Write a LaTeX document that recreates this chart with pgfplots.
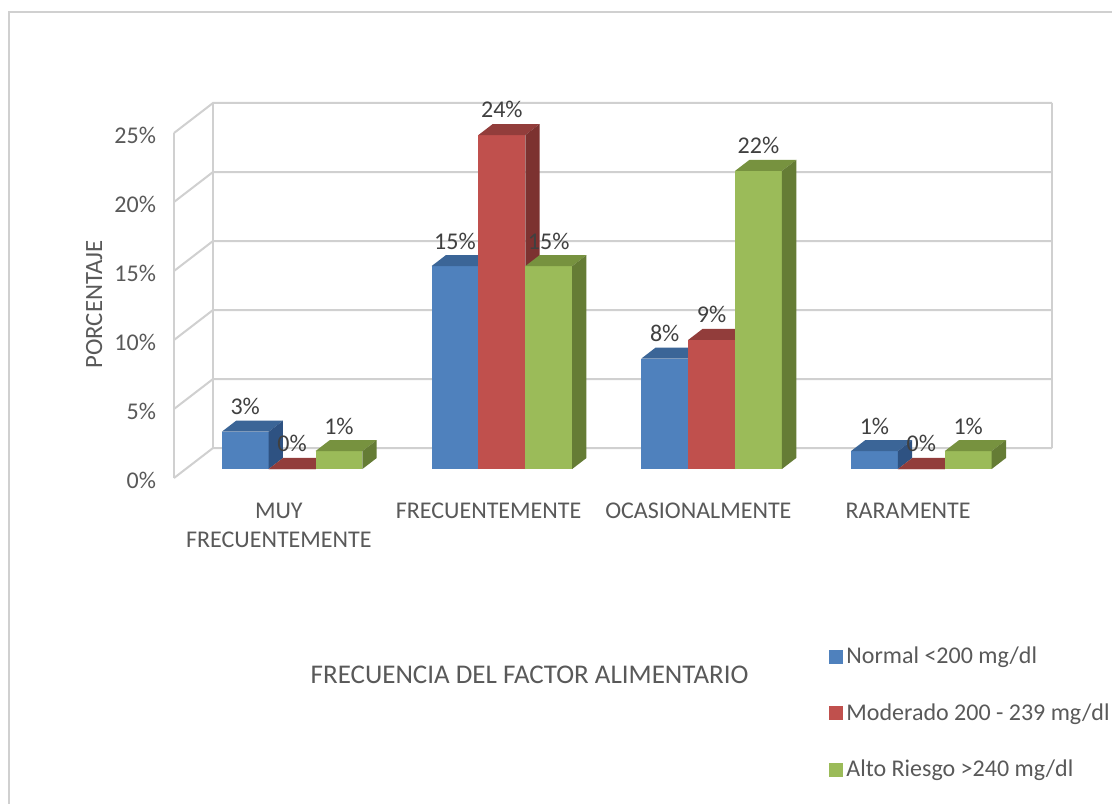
\documentclass[border=0pt]{standalone}
\usepackage{pgfplots}
\pgfplotsset{compat=1.18}
\usepackage{fontspec}
\setmainfont{Carlito}
\definecolor{cblue}{HTML}{4F81BD}
\definecolor{cbluetop}{HTML}{3B6597}
\definecolor{cblueside}{HTML}{2E5282}
\definecolor{cred}{HTML}{C0504D}
\definecolor{credtop}{HTML}{923D3B}
\definecolor{credside}{HTML}{7C3230}
\definecolor{cgreen}{HTML}{9BBB59}
\definecolor{cgreentop}{HTML}{77923F}
\definecolor{cgreenside}{HTML}{657C35}
\definecolor{cgrid}{HTML}{D0D0D0}
\definecolor{ctext}{HTML}{595959}
\definecolor{clabel}{HTML}{404040}
\newcommand{\chartfont}{\fontsize{12}{14.5}\selectfont}
% one 3D column: #1 category, #2 series, #3 value (%), #4 front, #5 top, #6 side colour
\newcommand{\cube}[6]{%
  \pgfmathsetmacro\xa{#1+0.172+#2*0.2235+0.0558}%
  \pgfmathsetmacro\xb{\xa+0.2235}%
  \pgfmathsetmacro\xc{\xa+0.0683}%
  \pgfmathsetmacro\xd{\xb+0.0683}%
  \pgfmathsetmacro\ya{0.6522}%
  \pgfmathsetmacro\yb{0.6522+#3}%
  \pgfmathsetmacro\yc{\ya+0.798}%
  \pgfmathsetmacro\yd{\yb+0.798}%
  \edef\tmp{%
    \noexpand\addplot[fill=#4,draw=none,forget plot] coordinates {(\xa,\ya) (\xb,\ya) (\xb,\yb) (\xa,\yb)};
    \noexpand\addplot[fill=#5,draw=none,forget plot] coordinates {(\xa,\yb) (\xb,\yb) (\xd,\yd) (\xc,\yd)};
    \noexpand\addplot[fill=#6,draw=none,forget plot] coordinates {(\xb,\ya) (\xd,\yc) (\xd,\yd) (\xb,\yb)};
  }\tmp}
% data label: #1 category, #2 series, #3 value
\newcommand{\dlab}[3]{%
  \pgfmathsetmacro\xm{#1+0.172+#2*0.2235+0.0558+0.11175}%
  \pgfmathsetmacro\yb{0.6522+#3}%
  \edef\tmp{%
    \noexpand\node[anchor=south,yshift=4.9pt,text=clabel,font=\noexpand\chartfont] at (axis cs:\xm,\yb)
      {\noexpand\pgfmathprintnumber[fixed,precision=0,assume math mode=true]{#3}\noexpand\%};
  }\tmp}
\begin{document}
\begin{tikzpicture}
\useasboundingbox (-87pt,-162.5pt) rectangle (469pt,239pt);
\fill[white] (-87pt,-162.5pt) rectangle (469pt,239pt);
\draw[cgrid,line width=1pt] (-82.5pt,-200pt) -- (-82.5pt,233pt) -- (500pt,233pt);
\begin{axis}[
  at={(0,0)}, anchor=origin,
  x=104.875pt, y=6.9pt,
  xmin=0, xmax=4.186, ymin=0, ymax=27.174,
  enlargelimits=false, clip=false,
  axis x line*=bottom, axis y line*=left,
  axis line style={draw=none},
  major tick length=0pt,
  xtick={0.5,1.5,2.5,3.5},
  xticklabels={{MUY\\FRECUENTEMENTE},FRECUENTEMENTE,OCASIONALMENTE,RARAMENTE},
  xticklabel style={align=center,text=ctext,font=\chartfont,yshift=-9pt},
  ytick={0,5,10,15,20,25},
  yticklabels={0\%,5\%,10\%,15\%,20\%,25\%},
  yticklabel style={text=ctext,font=\chartfont,xshift=-5.5pt,yshift=-1pt},
  xlabel={FRECUENCIA DEL FACTOR ALIMENTARIO},
  xlabel style={at={(axis description cs:0.405,-0.525)},anchor=center,text=ctext,font=\fontsize{13.5}{16}\selectfont},
  ylabel={PORCENTAJE},
  ylabel style={at={(axis description cs:-0.091,0.463)},anchor=center,text=ctext,font=\fontsize{12.4}{15}\selectfont},
  legend image code/.code={\fill[#1,draw=none] (0pt,-3.5pt) rectangle (7pt,3.5pt);},
  legend style={at={(axis description cs:0.746,-0.441)},anchor=north west,draw=none,fill=none,
    inner sep=0pt,row sep=15.5pt,font=\chartfont,text=ctext,
    nodes={inner sep=1.5pt}},
  legend cell align=left,
]
% walls and gridlines
\addplot[cgrid,line width=1pt,forget plot] coordinates {(0,0) (0,25)};
\addplot[cgrid,line width=1pt,forget plot] coordinates {(0.186,2.174) (0.186,27.174)};
\addplot[cgrid,line width=1pt,forget plot] coordinates {(4.186,2.174) (4.186,27.174)};
\addplot[cgrid,line width=1pt,forget plot] coordinates {(0,0) (0.186,2.174) (4.186,2.174)};
\addplot[cgrid,line width=1pt,forget plot] coordinates {(0,5) (0.186,7.174) (4.186,7.174)};
\addplot[cgrid,line width=1pt,forget plot] coordinates {(0,10) (0.186,12.174) (4.186,12.174)};
\addplot[cgrid,line width=1pt,forget plot] coordinates {(0,15) (0.186,17.174) (4.186,17.174)};
\addplot[cgrid,line width=1pt,forget plot] coordinates {(0,20) (0.186,22.174) (4.186,22.174)};
\addplot[cgrid,line width=1pt,forget plot] coordinates {(0,25) (0.186,27.174) (4.186,27.174)};
% bars: Normal, Moderado, Alto Riesgo
\cube{0}{0}{2.7}{cblue}{cbluetop}{cblueside}
\cube{0}{1}{0}{cred}{credtop}{credside}
\cube{0}{2}{1.3}{cgreen}{cgreentop}{cgreenside}
\cube{1}{0}{14.7}{cblue}{cbluetop}{cblueside}
\cube{1}{1}{24.2}{cred}{credtop}{credside}
\cube{1}{2}{14.7}{cgreen}{cgreentop}{cgreenside}
\cube{2}{0}{8.0}{cblue}{cbluetop}{cblueside}
\cube{2}{1}{9.35}{cred}{credtop}{credside}
\cube{2}{2}{21.6}{cgreen}{cgreentop}{cgreenside}
\cube{3}{0}{1.3}{cblue}{cbluetop}{cblueside}
\cube{3}{1}{0}{cred}{credtop}{credside}
\cube{3}{2}{1.3}{cgreen}{cgreentop}{cgreenside}
% labels
\dlab{0}{0}{2.7}\dlab{0}{1}{0}\dlab{0}{2}{1.3}
\dlab{1}{0}{14.7}\dlab{1}{1}{24.2}\dlab{1}{2}{14.7}
\dlab{2}{0}{8.0}\dlab{2}{1}{9.35}\dlab{2}{2}{21.6}
\dlab{3}{0}{1.3}\dlab{3}{1}{0}\dlab{3}{2}{1.3}
\addlegendimage{fill=cblue}\addlegendentry{Normal <200 mg/dl}
\addlegendimage{fill=cred}\addlegendentry{Moderado 200 - 239 mg/dl}
\addlegendimage{fill=cgreen}\addlegendentry{Alto Riesgo >240 mg/dl}
\end{axis}
\end{tikzpicture}
\end{document}
